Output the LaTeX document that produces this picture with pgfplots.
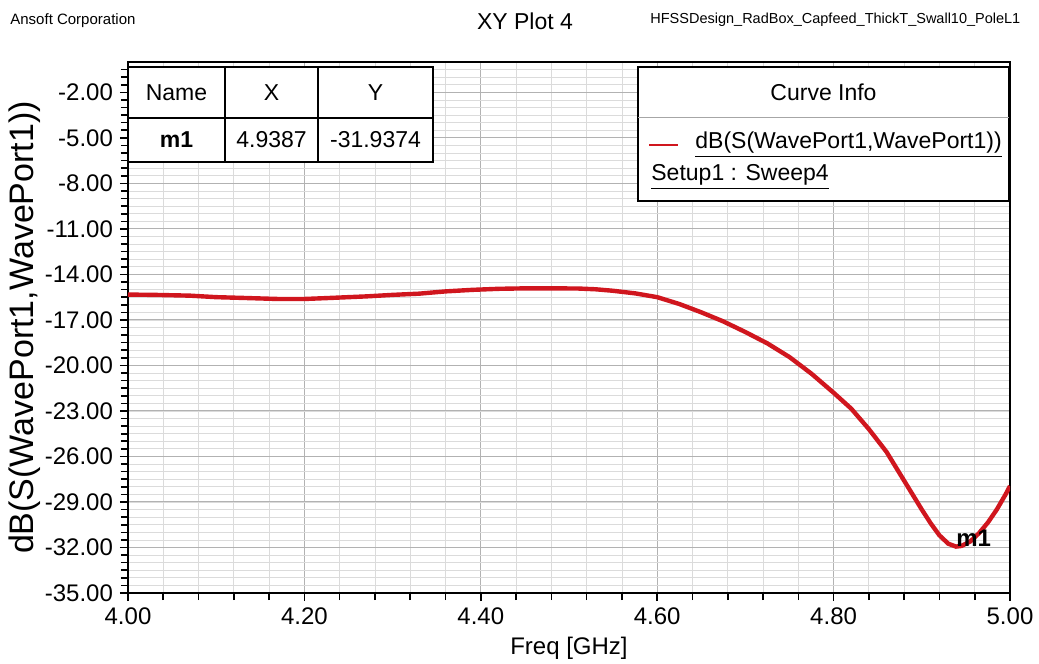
\documentclass[border=0pt]{standalone}
\usepackage{fontspec}
\setmainfont{Liberation Sans}
\usepackage{pgfplots}
\pgfplotsset{compat=1.18}
\definecolor{curvered}{RGB}{208,22,30}
\pgfplotstableread{
f s
4.00 -15.33
4.03 -15.35
4.07 -15.40
4.10 -15.50
4.13 -15.55
4.17 -15.62
4.20 -15.62
4.23 -15.55
4.27 -15.45
4.30 -15.35
4.33 -15.27
4.36 -15.12
4.39 -15.02
4.42 -14.95
4.45 -14.92
4.48 -14.92
4.51 -14.93
4.53 -14.98
4.55 -15.08
4.575 -15.25
4.60 -15.50
4.625 -15.95
4.65 -16.50
4.675 -17.10
4.70 -17.80
4.725 -18.55
4.75 -19.45
4.775 -20.55
4.80 -21.80
4.82 -22.85
4.84 -24.20
4.86 -25.70
4.88 -27.60
4.90 -29.50
4.91 -30.40
4.92 -31.20
4.93 -31.75
4.9387 -31.94
4.945 -31.90
4.955 -31.60
4.965 -31.05
4.975 -30.35
4.985 -29.50
4.995 -28.50
5.00 -27.95
}\sdata
\begin{document}
\begin{tikzpicture}[x=1pt,y=1pt]
\useasboundingbox (-64,-35.5) rectangle (455.5,296.5);
\begin{axis}[
  at={(0,0)}, anchor=south west,
  scale only axis, width=441pt, height=265.5pt,
  xmin=4, xmax=5, ymin=-35, ymax=0,
  xtick={4,4.2,4.4,4.6,4.8,5},
  xticklabels={4.00,4.20,4.40,4.60,4.80,5.00},
  ytick={-35,-32,-29,-26,-23,-20,-17,-14,-11,-8,-5,-2},
  yticklabels={-35.00,-32.00,-29.00,-26.00,-23.00,-20.00,-17.00,-14.00,-11.00,-8.00,-5.00,-2.00},
  minor xtick={4.04,4.08,4.12,4.16,4.24,4.28,4.32,4.36,4.44,4.48,4.52,4.56,4.64,4.68,4.72,4.76,4.84,4.88,4.92,4.96},
  minor ytick={-34.5,-34,...,-0.5},
  grid=both,
  major grid style={draw=gray!60, line width=0.5pt},
  minor grid style={draw=gray!28, line width=0.4pt},
  axis line style={line width=1pt, black},
  tick pos=left, tick align=outside,
  major tick length=4pt, minor tick length=3.5pt,
  every tick/.style={black, line width=0.8pt},
  tick label style={font=\fontsize{12}{12}\selectfont},
  xlabel={Freq [GHz]},
  ylabel={dB(S(WavePort1,WavePort1))},
  xlabel style={font=\fontsize{12}{12}\selectfont, at={(axis description cs:0.5,0)}, anchor=center, yshift=-27.5pt},
  ylabel style={font=\fontsize{17}{17}\selectfont, at={(axis description cs:0,0.5)}, anchor=center, yshift=51.5pt},
  clip=true,
]
\addplot[curvered, line width=2.2pt] table[x=f, y=s] {\sdata};
\node[anchor=base west, inner sep=0pt, font=\fontsize{12}{12}\selectfont\bfseries] at (axis cs:4.9387,-31.9374) {m1};
\end{axis}
% marker table
\fill[white] (0,215.5) rectangle (152.5,263.2);
\draw[line width=1pt] (0,215.5) rectangle (152.5,263.2);
\draw[line width=0.8pt] (0,237.5) -- (152.5,237.5);
\draw[line width=0.8pt] (48.5,215.5) -- (48.5,263.2);
\draw[line width=0.8pt] (95,215.5) -- (95,263.2);
\begin{scope}[every node/.style={font=\fontsize{11.5}{11.5}\selectfont, inner sep=0pt}]
\node at (24.25,250.3) {Name};
\node at (71.75,250.3) {X};
\node at (123.75,250.3) {Y};
\node[font=\fontsize{11.5}{11.5}\selectfont\bfseries] at (24.25,226.5) {m1};
\node at (71.75,226.5) {4.9387};
\node at (123.75,226.5) {-31.9374};
\end{scope}
% curve info box
\fill[white] (255,196.2) rectangle (440.5,263.2);
\draw[line width=1pt] (255,196.2) rectangle (440.5,263.2);
\draw[gray!70, line width=0.5pt] (255,237.5) -- (440.5,237.5);
\node[font=\fontsize{11.5}{11.5}\selectfont] at (347.75,250.3) {Curve Info};
\draw[curvered, line width=1.2pt] (260.5,224) -- (275,224);
\node[anchor=west, inner sep=0pt, font=\fontsize{11.5}{11.5}\selectfont] at (283.5,224) {\underline{dB(S(WavePort1,WavePort1))}};
\node[anchor=west, inner sep=0pt, font=\fontsize{11.5}{11.5}\selectfont] at (261.5,208) {\underline{Setup1 : Sweep4}};
% header texts
\node[anchor=west, inner sep=0pt, font=\fontsize{7.5}{7.5}\selectfont] at (-59,286) {Ansoft Corporation};
\node[inner sep=0pt, font=\fontsize{11.5}{11.5}\selectfont] at (198.5,286) {XY Plot 4};
\node[anchor=west, inner sep=0pt, font=\fontsize{7.25}{7.25}\selectfont] at (261,286.5) {HFSSDesign\_RadBox\_Capfeed\_ThickT\_Swall10\_PoleL1};
\end{tikzpicture}
\end{document}
